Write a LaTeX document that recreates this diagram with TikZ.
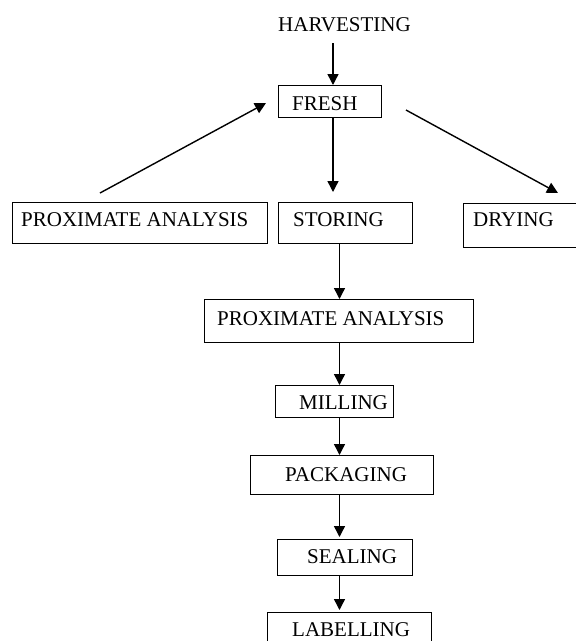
\documentclass[tikz,border=0pt]{standalone}
\usepackage{fontspec}
\setmainfont{Liberation Serif}
\usetikzlibrary{arrows.meta}
\begin{document}
\begin{tikzpicture}[x=1pt,y=-1pt,
  box/.style={draw=black,line width=0.9pt,anchor=north west,inner sep=0pt},
  lbl/.style={anchor=west,inner sep=0pt,font=\fontsize{21}{24}\selectfont},
  arr/.style={line width=1.4pt,-{Triangle[length=11pt,width=11pt]}},
  ln/.style={line width=1.4pt}]
\useasboundingbox (0,0) rectangle (576,641);
% boxes
\node[box,minimum width=103pt,minimum height=32pt] (fresh) at (278,85) {};
\node[box,minimum width=255pt,minimum height=41pt] (pa1) at (12,202) {};
\node[box,minimum width=134pt,minimum height=41pt] (storing) at (278,202) {};
\node[box,minimum width=130pt,minimum height=44pt] (drying) at (463,203) {};
\node[box,minimum width=269pt,minimum height=43pt] (pa2) at (204,299) {};
\node[box,minimum width=118pt,minimum height=32pt] (milling) at (275,385) {};
\node[box,minimum width=183pt,minimum height=39pt] (packaging) at (250,455) {};
\node[box,minimum width=135pt,minimum height=36pt] (sealing) at (277,539) {};
\node[box,minimum width=164pt,minimum height=50pt] (labelling) at (267,612) {};
% texts
\node[lbl] (harv) at (278,24.5) {HARVESTING};
\node[lbl] (freshT) at (292,104) {FRESH};
\node[lbl] (pa1T) at (21,220) {PROXIMATE ANALYSIS};
\node[lbl] (storingT) at (293,220) {STORING};
\node[lbl] (dryingT) at (473,220) {DRYING};
\node[lbl] (pa2T) at (217,319) {PROXIMATE ANALYSIS};
\node[lbl] (millingT) at (299,403) {MILLING};
\node[lbl] (packagingT) at (285,475) {PACKAGING};
\node[lbl] (sealingT) at (307,556.5) {SEALING};
\node[lbl] (labellingT) at (292,630) {LABELLING};
% helper coordinates
\coordinate (ax1) at (333,0);
\coordinate (ax2) at (339.5,0);
\coordinate (hs) at (333,43);
\coordinate (fd) at (333,192);
\coordinate (la) at (100,193);
\coordinate (lb) at (266,103);
\coordinate (ra) at (406,110);
\coordinate (rb) at (558,193);
% connectors
\draw[arr] (hs) -- (fresh.north -| ax1);
\draw[arr] (fresh.south -| ax1) -- (fd);
\draw[arr] (la) -- (lb);
\draw[arr] (ra) -- (rb);
\draw[arr] (storing.south -| ax2) -- (pa2.north -| ax2);
\draw[arr] (pa2.south -| ax2) -- (milling.north -| ax2);
\draw[arr] (milling.south -| ax2) -- (packaging.north -| ax2);
\draw[arr] (packaging.south -| ax2) -- ([yshift=2pt]sealing.north -| ax2);
\draw[arr] (sealing.south -| ax2) -- ([yshift=2pt]labelling.north -| ax2);
\end{tikzpicture}
\end{document}
